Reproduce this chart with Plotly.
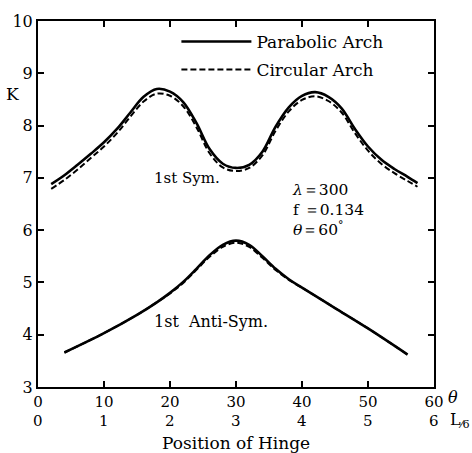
import plotly.graph_objects as go

# ---- data ----
sym_theta = [2, 4, 6, 8, 10, 12, 14, 16, 18, 20, 22, 24, 26, 28, 30, 32, 34, 36, 38, 40, 42, 44, 46, 48, 50, 52, 54, 56, 57.5]
sym_parabolic = [6.88, 7.05, 7.25, 7.46, 7.68, 7.94, 8.25, 8.55, 8.70, 8.65, 8.45, 8.05, 7.55, 7.27, 7.19, 7.25, 7.50, 7.98, 8.35, 8.57, 8.64, 8.55, 8.33, 7.94, 7.60, 7.35, 7.17, 7.02, 6.90]
sym_circular = [6.79, 6.96, 7.16, 7.38, 7.60, 7.86, 8.17, 8.46, 8.61, 8.57, 8.37, 7.97, 7.47, 7.20, 7.13, 7.19, 7.43, 7.90, 8.27, 8.49, 8.56, 8.47, 8.25, 7.86, 7.52, 7.27, 7.09, 6.94, 6.83]

anti_theta = [4, 10, 15, 18, 20, 22, 24, 26, 28, 30, 32, 34, 36, 38, 40, 45, 50, 56]
anti_parabolic = [3.66, 4.03, 4.38, 4.62, 4.80, 5.01, 5.26, 5.52, 5.72, 5.80, 5.72, 5.50, 5.26, 5.06, 4.90, 4.51, 4.12, 3.62]
anti_circular = [3.66, 4.03, 4.38, 4.62, 4.79, 4.99, 5.24, 5.49, 5.68, 5.76, 5.68, 5.47, 5.24, 5.05, 4.90, 4.51, 4.12, 3.62]

theta_ticks = [0, 10, 20, 30, 40, 50, 60]
l6_ticks = [0, 1, 2, 3, 4, 5, 6]
k_ticks = [3, 4, 5, 6, 7, 8, 9, 10]

FONT = "DejaVu Serif"

fig = go.Figure()
fig.add_trace(go.Scatter(x=sym_theta, y=sym_parabolic, mode="lines", name="Parabolic Arch",
                         line=dict(color="black", width=2.6, shape="spline"), legendgroup="p"))
fig.add_trace(go.Scatter(x=sym_theta, y=sym_circular, mode="lines", name="Circular Arch",
                         line=dict(color="black", width=2, dash="6px,3px", shape="spline"), legendgroup="c"))
fig.add_trace(go.Scatter(x=anti_theta, y=anti_parabolic, mode="lines", showlegend=False,
                         line=dict(color="black", width=2.6, shape="spline"), legendgroup="p"))
fig.add_trace(go.Scatter(x=anti_theta, y=anti_circular, mode="lines", showlegend=False,
                         line=dict(color="black", width=2, dash="6px,3px", shape="spline"), legendgroup="c"))

fig.update_layout(
    width=472, height=453,
    margin=dict(l=36, r=38, t=16, b=66),
    paper_bgcolor="white", plot_bgcolor="white",
    font=dict(family=FONT, size=16, color="black"),
    showlegend=True,
    legend=dict(x=0.3495, y=0.992, xanchor="left", yanchor="top", bgcolor="rgba(0,0,0,0)",
                font=dict(family=FONT, size=17), tracegroupgap=3, itemwidth=70),
    xaxis=dict(range=[0, 60], tickvals=theta_ticks, ticktext=[str(t) for t in theta_ticks],
               ticks="inside", ticklen=6, tickwidth=1.5, tickcolor="black", showline=True,
               linecolor="black", linewidth=2, mirror="ticks", showgrid=False, zeroline=False,
               tickfont=dict(family=FONT, size=15)),
    yaxis=dict(range=[3, 10], tickvals=k_ticks, ticks="inside", ticklen=6, tickwidth=1.5,
               tickcolor="black", showline=True, linecolor="black", linewidth=2, mirror="ticks",
               showgrid=False, zeroline=False, tickfont=dict(family=FONT, size=16), ticklabelstandoff=0),
)

ann = [
    dict(x=-0.065, y=8.6, xref="paper", yref="y", text="K", showarrow=False,
         xanchor="center", yanchor="middle", font=dict(size=17)),
    dict(x=1.03, y=-0.03, xref="paper", yref="paper", text="<i>θ</i>", showarrow=False,
         xanchor="left", yanchor="middle", font=dict(size=16)),
    dict(x=1.035, y=-0.092, xref="paper", yref="paper", text="L<sub>⁄6</sub>", showarrow=False,
         xanchor="left", yanchor="middle", font=dict(size=16)),
    dict(x=0.5, y=-0.153, xref="paper", yref="paper", text="Position of Hinge", showarrow=False,
         xanchor="center", yanchor="middle", font=dict(size=17)),
    dict(x=22.6, y=7.0, text="1st Sym.", showarrow=False, xanchor="center", yanchor="middle",
         font=dict(size=15)),
    dict(x=26.2, y=4.25, text="1st\u00a0\u00a0Anti-Sym.", showarrow=False, xanchor="center",
         yanchor="middle", font=dict(size=16)),
    dict(x=38.2, y=6.98, text="<i>λ</i>＝300<br>f ＝0.134<br><i>θ</i>＝60<sup>°</sup>", showarrow=False,
         xanchor="left", yanchor="top", align="left", font=dict(size=15.5)),
]
for t, l in zip(theta_ticks, l6_ticks):
    ann.append(dict(x=t, y=-0.092, xref="x", yref="paper", text=str(l), showarrow=False,
                    xanchor="center", yanchor="middle", font=dict(size=15)))
fig.update_layout(annotations=ann)

fig.write_html("out.html", config={"displayModeBar": False},
               post_script="document.body.style.margin='0';document.body.style.overflow='hidden';")
